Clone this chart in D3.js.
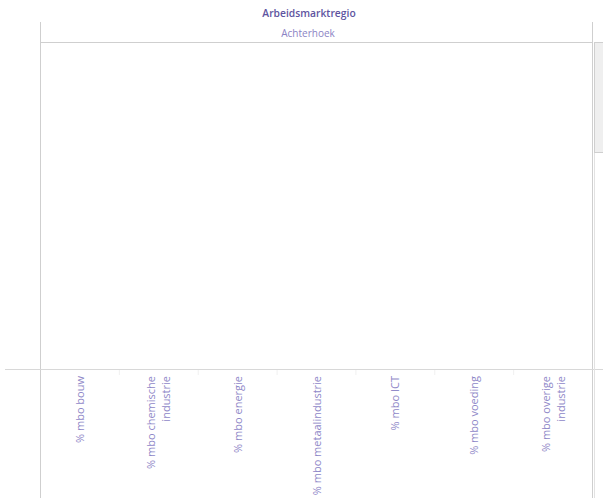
<!DOCTYPE html>
<html>
<head>
<meta charset="utf-8">
<script src="https://cdn.jsdelivr.net/npm/d3@7"></script>
<style>
  html, body { margin: 0; padding: 0; background: #fff; }
  svg { display: block; font-family: "Open Sans", "Noto Sans", sans-serif; }
</style>
</head>
<body>
<svg id="chart" width="603" height="498"></svg>
<script>
const headerTitle = "Arbeidsmarktregio";
const regions = ["Achterhoek"];
const categories = [
  ["% mbo bouw"],
  ["% mbo chemische", "industrie"],
  ["% mbo energie"],
  ["% mbo metaalindustrie"],
  ["% mbo ICT"],
  ["% mbo voeding"],
  ["% mbo overige", "industrie"]
];
// No values are shown in the reference (empty panel)
const values = [null, null, null, null, null, null, null];

(function () {
const svg = d3.select("#chart");
const W = 603, H = 498;
const plotLeft = 40, plotRight = 592, plotTop = 43, base = 369;

const x = d3.scaleBand().domain(categories.map((d, i) => i)).range([plotLeft, plotRight]).padding(0);
const y = d3.scaleLinear().domain([0, 1]).range([base, plotTop]);

// title
svg.append("text").attr("x", 309).attr("y", 17).attr("text-anchor", "middle")
  .attr("font-size", 10.3).attr("font-weight", 600).attr("fill", "#5e54a0")
  .text(headerTitle);

// region header
svg.append("text").attr("x", 308).attr("y", 37).attr("text-anchor", "middle")
  .attr("font-size", 10).attr("fill", "#8b82c4").text(regions[0]);

const lineCol = "#cfcfcf";
svg.append("line").attr("x1", plotLeft + 0.5).attr("x2", plotLeft + 0.5).attr("y1", 22).attr("y2", H).attr("stroke", lineCol);
svg.append("line").attr("x1", plotRight + 0.5).attr("x2", plotRight + 0.5).attr("y1", 22).attr("y2", H).attr("stroke", lineCol);
svg.append("line").attr("x1", plotLeft).attr("x2", plotRight).attr("y1", plotTop - 0.5).attr("y2", plotTop - 0.5).attr("stroke", lineCol);
svg.append("line").attr("x1", 5).attr("x2", W).attr("y1", base + 0.5).attr("y2", base + 0.5).attr("stroke", "#d8d8d8");

// scrollbar
svg.append("line").attr("x1", 594.5).attr("x2", 594.5).attr("y1", plotTop).attr("y2", H).attr("stroke", "#e2e2e2");
svg.append("rect").attr("x", 594.5).attr("y", plotTop - 0.5).attr("width", 9).attr("height", 110)
  .attr("fill", "#efefef").attr("stroke", "#cfcfcf");

// bars (none have values)
svg.append("g").selectAll("rect").data(values.map((v, i) => ({ v, i })).filter(d => d.v != null))
  .join("rect")
  .attr("x", d => x(d.i) + x.bandwidth() * 0.2)
  .attr("width", x.bandwidth() * 0.6)
  .attr("y", d => y(d.v)).attr("height", d => base - y(d.v))
  .attr("fill", "#6a5fa8");

// x axis separators
const ax = svg.append("g");
categories.forEach((c, i) => {
  if (i > 0) {
    ax.append("line").attr("x1", x(i) + 0.5).attr("x2", x(i) + 0.5)
      .attr("y1", base + 1).attr("y2", base + 6).attr("stroke", "#f0f0f0");
  }
});

// category labels (rotated)
categories.forEach((lines, i) => {
  const cx = x(i) + x.bandwidth() / 2;
  const lh = 15;
  const n = lines.length;
  lines.forEach((t, j) => {
    const off = (j - (n - 1) / 2) * lh;
    svg.append("text")
      .attr("transform", `translate(${cx + off + 4.5},376) rotate(-90)`)
      .attr("text-anchor", "end")
      .attr("font-size", 11)
      .attr("fill", "#8f88c8")
      .text(t);
  });
});
})();
</script>
</body>
</html>
